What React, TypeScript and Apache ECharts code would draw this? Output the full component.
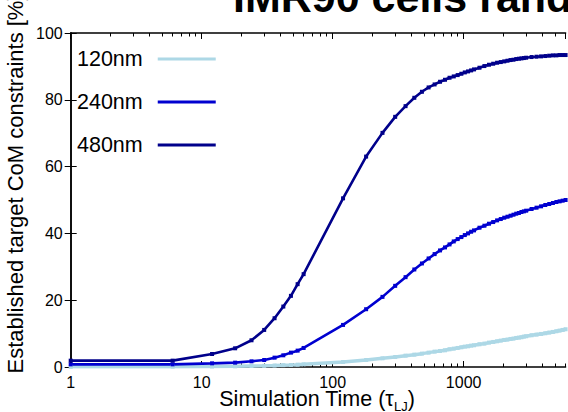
import React, { useEffect, useRef } from "react";
import * as echarts from "echarts";

const titleText = "IMR90 cells rand";
const xAxisTitle = "Simulation Time (τ";
const xAxisSub = "LJ";
const yAxisTitle = "Established target CoM constraints [%]";
const seriesNames = ["120nm", "240nm", "480nm"];
const seriesColors = ["#add8e6", "#0000d0", "#00008b"];

const times = [1, 6, 12, 18, 24, 30, 36, 42, 48, 54, 60, 120, 180, 240, 300, 360, 420, 480, 540, 600, 660, 720, 780, 840, 900, 960, 1020, 1080, 1140, 1200, 1320, 1440, 1560, 1680, 1800, 1920, 2040, 2160, 2280, 2400, 2520, 2640, 2760, 2880, 3000, 3300, 3600, 3900, 4200, 4500, 4800, 5100, 5400, 5700, 6000];

const v120 = [0.05, 0.1, 0.15, 0.2, 0.3, 0.35, 0.45, 0.55, 0.6, 0.7, 0.8,
  1.5, 2.1, 2.6, 3.0, 3.4, 3.7, 4.0, 4.3, 4.6,
  4.8, 5.0, 5.3, 5.5, 5.7, 5.9, 6.1, 6.2, 6.4, 6.5,
  6.8, 7.0, 7.3, 7.5, 7.7, 7.9, 8.1, 8.2, 8.4, 8.5, 8.7, 8.8, 8.9, 9.1, 9.2,
  9.5, 9.7, 9.9, 10.1, 10.3, 10.5, 10.7, 10.9, 11.1, 11.3];

const v240 = [0.8, 0.8, 1.1, 1.3, 1.7, 2.1, 2.8, 3.5, 4.3, 4.9, 5.7,
  12.6, 17.3, 21.0, 24.3, 26.9, 29.2, 31.0, 32.5, 33.8,
  34.9, 35.8, 36.7, 37.6, 38.3, 38.9, 39.5, 40.0, 40.5, 40.9,
  41.7, 42.3, 42.9, 43.4, 43.9, 44.3, 44.7, 45.0, 45.3, 45.6, 45.9, 46.1, 46.4, 46.6, 46.8,
  47.3, 47.7, 48.1, 48.5, 48.8, 49.1, 49.4, 49.6, 49.8, 50.0];

const v480 = [1.9, 1.9, 3.9, 5.6, 8.0, 11.1, 14.6, 18.1, 21.3, 24.8, 27.8,
  50.5, 63.0, 70.1, 74.9, 78.1, 80.6, 82.4, 83.7, 84.6,
  85.4, 86.0, 86.6, 87.0, 87.4, 87.8, 88.2, 88.5, 88.8, 89.1,
  89.6, 90.1, 90.5, 90.8, 91.1, 91.3, 91.5, 91.7, 91.9, 92.0, 92.2, 92.3, 92.4, 92.5, 92.6,
  92.8, 92.9, 93.0, 93.1, 93.2, 93.3, 93.3, 93.4, 93.4, 93.4];

const xMin = 1;
const xMax = 6000;
const yTicks = [0, 20, 40, 60, 80, 100];
const minorTickValues = [2, 3, 4, 5, 6, 7, 8, 9, 20, 30, 40, 50, 60, 70, 80, 90, 200, 300, 400, 500, 600, 700, 800, 900, 2000, 3000, 4000, 5000, 6000];

const FONT = "'Liberation Sans', Arial, Helvetica, sans-serif";

export default function App() {
  const ref = useRef<HTMLDivElement>(null);
  useEffect(() => {
    if (!ref.current) return;
    const chart = echarts.init(ref.current, undefined, { renderer: "svg" });
    const values = [v120, v240, v480];
    const lineWidths = [3.5, 2.6, 2.6];
    const axisLine = { show: true, lineStyle: { color: "#000", width: 1.5 } };
    const minorLog = minorTickValues.map((v) => Math.log10(v));
    const logMax = Math.log10(xMax);
    const majorX = (pos: string, labels: boolean) => ({
      type: "log",
      logBase: 10,
      min: xMin,
      max: xMax,
      position: pos,
      axisLine,
      axisTick: { show: true, inside: true, length: 6, lineStyle: { color: "#000", width: 1 } },
      axisLabel: {
        show: labels,
        color: "#000",
        fontSize: 16,
        fontFamily: FONT,
        margin: 7,
        showMaxLabel: false,
        formatter: (v: number) => String(Math.round(v)),
      },
      splitLine: { show: false },
      minorTick: { show: false },
    });
    const minorX = (pos: string) => ({
      type: "value",
      min: 0,
      max: logMax,
      position: pos,
      axisLine: { show: false },
      axisTick: { show: true, inside: true, length: 3.5, customValues: minorLog, lineStyle: { color: "#000", width: 1 } },
      axisLabel: { show: false },
      splitLine: { show: false },
    });
    const option: any = {
      animation: false,
      backgroundColor: "#fff",
      grid: { left: 70.7, right: 2.4, top: 33, bottom: 45, containLabel: false },
      xAxis: [majorX("bottom", true), minorX("bottom"), majorX("top", false), minorX("top")],
      yAxis: [
        {
          type: "value",
          min: yTicks[0],
          max: yTicks[yTicks.length - 1],
          interval: 20,
          position: "left",
          axisLine,
          axisTick: { show: true, inside: true, length: 6, lineStyle: { color: "#000", width: 1 } },
          axisLabel: { color: "#000", fontSize: 16, fontFamily: FONT, margin: 8 },
          splitLine: { show: false },
        },
        {
          type: "value",
          min: yTicks[0],
          max: yTicks[yTicks.length - 1],
          interval: 20,
          position: "right",
          axisLine,
          axisTick: { show: true, inside: true, length: 6, lineStyle: { color: "#000", width: 1 } },
          axisLabel: { show: false },
          splitLine: { show: false },
        },
      ],
      legend: {
        show: true,
        orient: "vertical",
        left: 72,
        top: 43,
        align: "right",
        icon: "rect",
        itemWidth: 58,
        itemHeight: 3,
        itemGap: 21,
        data: seriesNames,
        textStyle: { color: "#000", fontSize: 21.5, fontFamily: FONT, padding: [0, 10, 0, 0] },
      },
      series: seriesNames.map((name, i) => ({
        name,
        type: "line",
        xAxisIndex: 0,
        yAxisIndex: 0,
        data: times.map((t, j) => [t, values[i][j]]),
        symbol: "rect",
        symbolSize: 4,
        showSymbol: true,
        color: seriesColors[i],
        itemStyle: { color: seriesColors[i] },
        lineStyle: { color: seriesColors[i], width: lineWidths[i] },
        clip: true,
      })),
      graphic: [
        {
          type: "text",
          left: 233,
          top: -25,
          style: { text: titleText, font: `bold 43px ${FONT}`, fill: "#000" },
        },
        {
          type: "text",
          x: 15,
          y: 184,
          rotation: Math.PI / 2,
          style: {
            text: yAxisTitle,
            font: `22px ${FONT}`,
            fill: "#000",
            align: "center",
            verticalAlign: "middle",
          },
        },
        {
          type: "text",
          x: 317,
          y: 399,
          style: {
            text: `{a|${xAxisTitle}}{b|${xAxisSub}}{a|)}`,
            align: "center",
            verticalAlign: "middle",
            rich: {
              a: { fontSize: 21.5, fontFamily: FONT, fill: "#000", color: "#000", lineHeight: 28, verticalAlign: "middle" },
              b: { fontSize: 13, fontFamily: FONT, fill: "#000", color: "#000", lineHeight: 12, verticalAlign: "bottom" },
            },
          },
        },
      ],
    };
    chart.setOption(option);
    return () => chart.dispose();
  }, []);
  return <div ref={ref} style={{ width: 568, height: 412, position: "absolute", left: 0, top: 0 }} />;
}
